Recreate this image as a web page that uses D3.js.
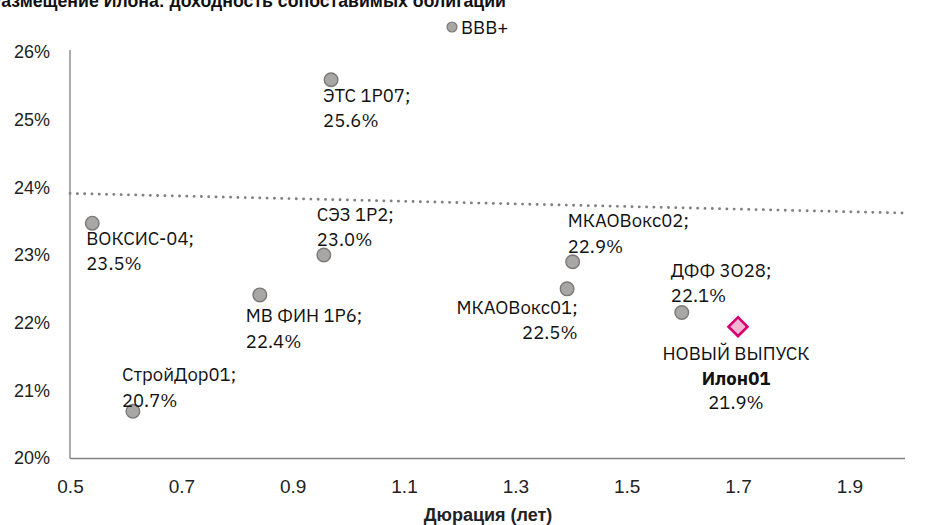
<!DOCTYPE html>
<html><head><meta charset="utf-8">
<script src="https://cdn.jsdelivr.net/npm/d3@7"></script>
<style>
body{margin:0;background:#fff;}
svg{display:block;}
</style></head>
<body><svg id="c" width="925" height="525"></svg>
<script>
const names = ["ВОКСИС-04","СтройДор01","МВ ФИН 1Р6","СЭЗ 1Р2","ЭТС 1Р07","МКАОВокс01","МКАОВокс02","ДФФ 3О28"];
const durations = [0.54,0.613,0.841,0.956,0.969,1.393,1.403,1.599];
const yields = [23.47,20.69,22.41,23.0,25.59,22.5,22.9,22.15];
const newName = ["НОВЫЙ ВЫПУСК","Илон01"];
const newDuration = [1.70];
const newYield = [21.94];
const trendX = [0.5, 2.0];
const trendY = [23.91, 23.62];
const xTicks = [0.5,0.7,0.9,1.1,1.3,1.5,1.7,1.9];
const yTicks = [20,21,22,23,24,25,26];
const legendLabel = "BBB+";
const titleText = "Размещение Илона: доходность сопоставимых облигаций";
const xTitle = "Дюрация (лет)";

// label layout: [dx, dy line1 baseline, anchor]
const labelPos = [
  [-6, 21.5, "start"],
  [-11, -30, "start"],
  [-14, 27.5, "start"],
  [-7, -34.5, "start"],
  [-8, 22, "start"],
  [10.5, 24.7, "end"],
  [-5, -34.3, "start"],
  [-11, -36, "start"]
];

const svg = d3.select("#c");
const x = d3.scaleLinear().domain([0.5,2.0]).range([70,905]);
const y = d3.scaleLinear().domain([20,26]).range([458,52]);
const labelFont = "'IBM Plex Sans', Roboto, 'Noto Sans', sans-serif";
const LF = 18.5;

// title (clipped at top/left as in reference)
svg.append("text").attr("x",506).attr("y",7).attr("text-anchor","end")
  .attr("font-family","'Liberation Sans', Arial, sans-serif").attr("font-weight","bold")
  .attr("font-size",17.7).attr("fill","#111").text(titleText);

// axes
const yAxis = d3.axisLeft(y).tickValues(yTicks).tickSize(0).tickPadding(20).tickFormat(d=>d+"%");
const gy = svg.append("g").attr("transform","translate(70,0)").call(yAxis);
gy.select(".domain").attr("stroke","#7f7f7f").attr("stroke-width",1.3).attr("d","M0,50V458.5");
gy.selectAll("text").attr("font-family","'Liberation Sans', Arial, sans-serif").attr("font-size",18).attr("fill","#222");

const xAxis = d3.axisBottom(x).tickValues(xTicks).tickSize(0).tickPadding(21).tickFormat(d3.format(".1f"));
const gx = svg.append("g").attr("transform","translate(0,458.5)").call(xAxis);
gx.select(".domain").attr("stroke","#7f7f7f").attr("stroke-width",1.3).attr("d","M70,0H905");
gx.selectAll("text").attr("font-family","'Liberation Sans', Arial, sans-serif")
  .attr("font-size",19).attr("fill","#222");

svg.append("text").attr("x",488).attr("y",521).attr("text-anchor","middle")
  .attr("font-family","'Liberation Sans', Arial, sans-serif")
  .attr("font-weight","bold").attr("font-size",18).attr("fill","#222").text(xTitle);

// trend line
svg.append("path").datum(trendX.map((v,i)=>[v,trendY[i]]))
  .attr("d",d3.line().x(d=>x(d[0])).y(d=>y(d[1])))
  .attr("stroke","#7f7f7f").attr("stroke-width",2.8).attr("stroke-dasharray","0.1 7.2")
  .attr("stroke-linecap","round").attr("fill","none");

// points
const pts = durations.map((d,i)=>({x:d,y:yields[i],name:names[i],pos:labelPos[i]}));
svg.selectAll("circle.pt").data(pts).join("circle").attr("class","pt")
  .attr("cx",d=>x(d.x)).attr("cy",d=>y(d.y)).attr("r",6.8)
  .attr("fill","#a9a6a6").attr("stroke","#7a7878").attr("stroke-width",1.4);

const lbl = svg.selectAll("g.lbl").data(pts).join("g").attr("class","lbl")
  .attr("transform",d=>`translate(${x(d.x)+d.pos[0]},${y(d.y)+d.pos[1]})`);
lbl.append("text").attr("text-anchor",d=>d.pos[2]).attr("font-family",labelFont).attr("font-size",LF).attr("fill","#111")
  .text(d=>d.name+";");
lbl.append("text").attr("y",25.5).attr("text-anchor",d=>d.pos[2]).attr("font-family",labelFont).attr("font-size",LF).attr("fill","#111")
  .text(d=>d.y.toFixed(1)+"%");

// new issue diamond
const nx = x(newDuration[0]), ny = y(newYield[0]);
svg.append("path").attr("d",d3.symbol().type(d3.symbolSquare).size(180)())
  .attr("transform",`translate(${nx},${ny}) rotate(45)`)
  .attr("fill","#f2b6d2").attr("stroke","#d5006d").attr("stroke-width",2.6);
const ng = svg.append("g").attr("transform",`translate(${nx-2},${ny})`);
ng.append("text").attr("y",33).attr("text-anchor","middle").attr("font-family",labelFont).attr("font-size",LF).attr("fill","#111").text(newName[0]);
ng.append("text").attr("y",58).attr("text-anchor","middle").attr("font-family",labelFont).attr("font-weight","bold").attr("font-size",LF).attr("fill","#111").text(newName[1]);
ng.append("text").attr("y",82).attr("text-anchor","middle").attr("font-family",labelFont).attr("font-size",LF).attr("fill","#111").text(newYield[0].toFixed(1)+"%");

// legend
svg.append("circle").attr("cx",452).attr("cy",27).attr("r",5).attr("fill","#a9a6a6").attr("stroke","#7a7878").attr("stroke-width",1.2);
svg.append("text").attr("x",461).attr("y",33.5).attr("font-family",labelFont).attr("font-size",LF).attr("fill","#111").text(legendLabel);
</script></body></html>
